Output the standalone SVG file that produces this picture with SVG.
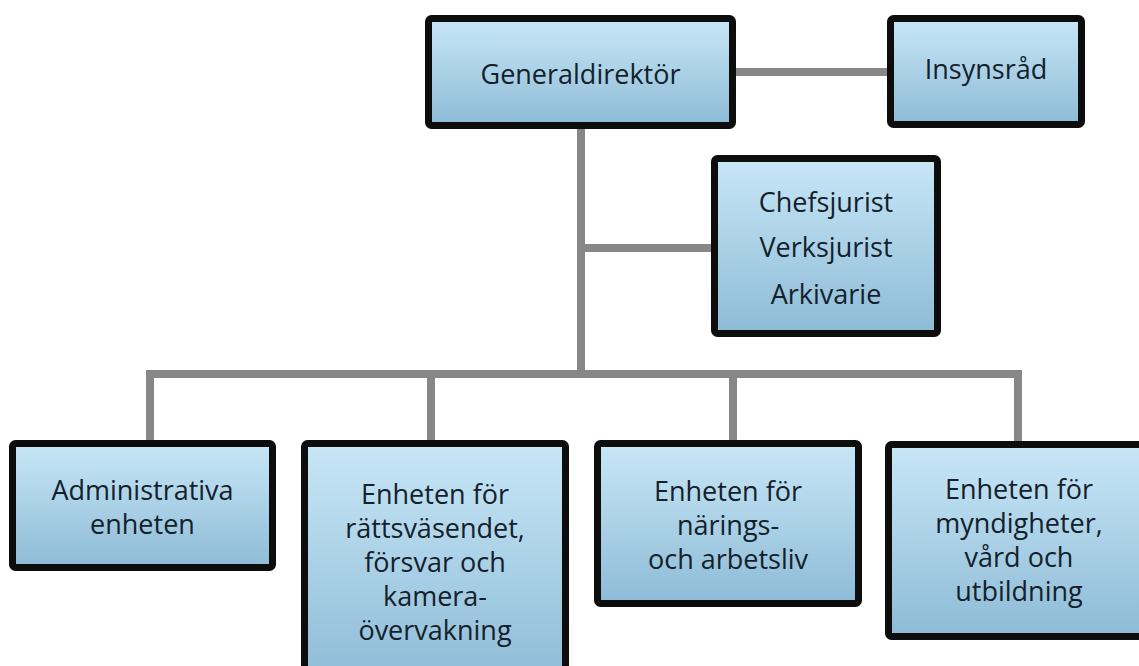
<svg xmlns="http://www.w3.org/2000/svg" width="1139" height="666" viewBox="0 0 1139 666">
<defs>
<linearGradient id="g" x1="0" y1="0" x2="0" y2="1">
<stop offset="0" stop-color="#c8e7f7"/>
<stop offset="1" stop-color="#8dbbd6"/>
</linearGradient>
<style>
.box{fill:url(#g);stroke:#0d0d0d;stroke-width:7;}
.t{font-family:"Open Sans","Noto Sans",sans-serif;font-size:27px;fill:#14212b;text-anchor:middle;}
.c{stroke:#878787;stroke-width:8;fill:none;}
</style>
</defs>
<rect width="1139" height="666" fill="#ffffff"/>
<g id="connectors">
<line class="c" x1="736" y1="72" x2="887" y2="72"/>
<line class="c" x1="581" y1="129" x2="581" y2="374"/>
<line class="c" x1="581" y1="248" x2="711" y2="248"/>
<polyline class="c" points="150,440 150,374 1018,374 1018,441"/>
<line class="c" x1="431" y1="374" x2="431" y2="440"/>
<line class="c" x1="733" y1="374" x2="733" y2="440"/>
</g>
<g id="generaldirektor">
<rect class="box" x="428.5" y="18.5" width="304" height="107" rx="3"/>
<text class="t" x="580.5" y="84">Generaldirektör</text>
</g>
<g id="insynsrad">
<rect class="box" x="890.5" y="18.5" width="191" height="106" rx="3"/>
<text class="t" x="986" y="79">Insynsråd</text>
</g>
<g id="jurister">
<rect class="box" x="714.5" y="158.5" width="223" height="175" rx="3"/>
<text class="t" x="826" y="212">Chefsjurist</text>
<text class="t" x="826" y="257">Verksjurist</text>
<text class="t" x="826" y="304">Arkivarie</text>
</g>
<g id="administrativa">
<rect class="box" x="12.5" y="443.5" width="260" height="124" rx="3"/>
<text class="t" x="142.5" y="500">Administrativa</text>
<text class="t" x="142.5" y="534">enheten</text>
</g>
<g id="rattsvasendet">
<rect class="box" x="304.5" y="443.5" width="261" height="240" rx="3"/>
<text class="t" x="435" y="504">Enheten för</text>
<text class="t" x="435" y="538">rättsväsendet,</text>
<text class="t" x="435" y="572">försvar och</text>
<text class="t" x="435" y="606">kamera-</text>
<text class="t" x="435" y="640">övervakning</text>
</g>
<g id="naringsliv">
<rect class="box" x="597.5" y="443.5" width="261" height="160" rx="3"/>
<text class="t" x="728" y="501">Enheten för</text>
<text class="t" x="728" y="535">närings-</text>
<text class="t" x="728" y="569">och arbetsliv</text>
</g>
<g id="myndigheter">
<rect class="box" x="888.5" y="444.5" width="270" height="192" rx="3"/>
<text class="t" x="1019" y="499">Enheten för</text>
<text class="t" x="1019" y="533">myndigheter,</text>
<text class="t" x="1019" y="567">vård och</text>
<text class="t" x="1019" y="601">utbildning</text>
</g>
</svg>
